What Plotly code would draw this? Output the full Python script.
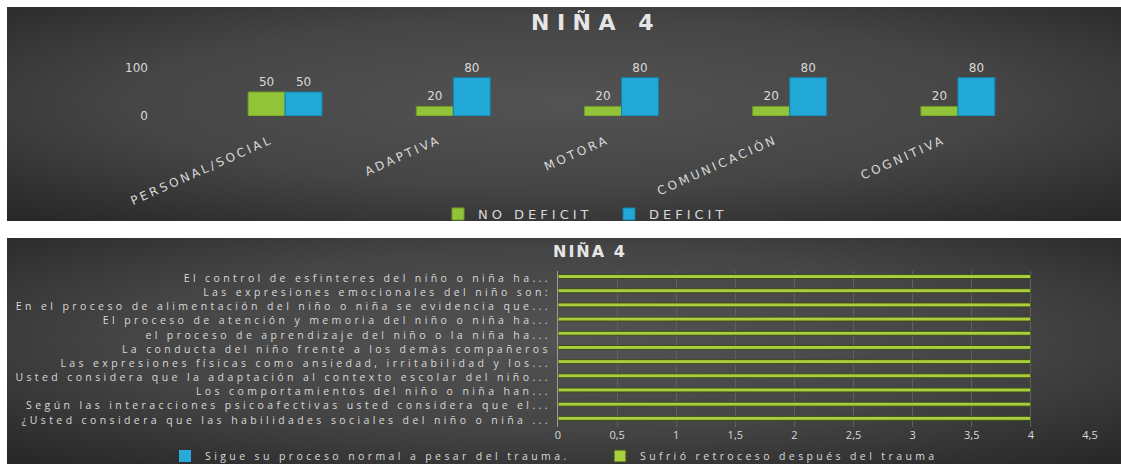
import base64
import plotly.graph_objects as go

# ---------------- data ----------------
areas = ["PERSONAL/SOCIAL", "ADAPTIVA", "MOTORA", "COMUNICACIÓN", "COGNITIVA"]
no_deficit = [50, 20, 20, 20, 20]
deficit = [50, 80, 80, 80, 80]

questions = [
    "¿Usted considera que las habilidades sociales del niño o niña ...",
    "Según las interacciones psicoafectivas usted considera que el...",
    "Los comportamientos del niño o niña han...",
    "Usted considera que la adaptación al contexto escolar del niño...",
    "Las expresiones físicas como ansiedad, irritabilidad y los...",
    "La conducta del niño frente a los demás compañeros",
    "el proceso de aprendizaje del niño o la niña ha...",
    "El proceso de atención y memoria del niño o niña ha...",
    "En el proceso de alimentación del niño o niña se evidencia que...",
    "Las expresiones emocionales del niño son:",
    "El control de esfinteres del niño o niña ha...",
]
sigue_normal = [0, 0, 0, 0, 0, 0, 0, 0, 0, 0, 0]
sufrio_retroceso = [4, 4, 4, 4, 4, 4, 4, 4, 4, 4, 4]

title_text = "NIÑA 4"
legend_top = ["NO DEFICIT", "DEFICIT"]
legend_bottom = ["Sigue su proceso normal a pesar del trauma.", "Sufrió retroceso después del trauma"]

# ---------------- helpers ----------------
W, H = 1121, 464
GREEN = "#92c43a"
BLUE = "#22a8d6"
TXT = "#d9d9d9"
Q_LS = 3.4  # letter spacing of the bottom chart texts


def sp(s, ls):
    return f'<span style="letter-spacing:{ls}px">{s}</span>'


def px_x(x):
    return x / W


def px_y(y):
    return 1 - y / H


svg = ("<svg xmlns='http://www.w3.org/2000/svg' width='200' height='100' viewBox='0 0 200 100' "
       "preserveAspectRatio='none'><defs><radialGradient id='g' cx='0.5' cy='0.45' r='0.72'>"
       "<stop offset='0' stop-color='#535353'/><stop offset='0.55' stop-color='#454545'/>"
       "<stop offset='1' stop-color='#282828'/></radialGradient></defs>"
       "<rect width='200' height='100' fill='url(#g)'/></svg>")
bg_src = "data:image/svg+xml;base64," + base64.b64encode(svg.encode()).decode()

# category labels padded with non-breaking spaces so the rotated text sits left of the bars
area_labels = [sp(a, 2.8) + "&nbsp;&nbsp;&nbsp;&nbsp;" for a in areas]

fig = go.Figure()

# ---------------- top chart ----------------
fig.add_trace(go.Bar(
    x=area_labels, y=no_deficit, name=sp(legend_top[0], 4),
    marker=dict(color=GREEN, line=dict(color="#6f9a25", width=1)),
    text=no_deficit, textposition="outside", cliponaxis=False,
    textfont=dict(family="DejaVu Sans", size=12, color=TXT),
    xaxis="x", yaxis="y", legend="legend", showlegend=True,
))
fig.add_trace(go.Bar(
    x=area_labels, y=deficit, name=sp(legend_top[1], 4),
    marker=dict(color=BLUE, line=dict(color="#157fa6", width=1)),
    text=deficit, textposition="outside", cliponaxis=False,
    textfont=dict(family="DejaVu Sans", size=12, color=TXT),
    xaxis="x", yaxis="y", legend="legend2", showlegend=True,
))

# ---------------- bottom chart ----------------
fig.add_trace(go.Bar(
    y=[sp(q, Q_LS) for q in questions], x=sigue_normal, orientation="h",
    name=sp(legend_bottom[0], Q_LS), marker=dict(color="#2aa9da", line=dict(width=0)),
    width=0.28,
    xaxis="x2", yaxis="y2", legend="legend3", showlegend=True,
))
fig.add_trace(go.Bar(
    y=[sp(q, Q_LS) for q in questions], x=sufrio_retroceso, orientation="h",
    name=sp(legend_bottom[1], Q_LS), marker=dict(color="#a9cf3e", line=dict(color="#3f4a1c", width=1)),
    width=0.28,
    xaxis="x2", yaxis="y2", legend="legend4", showlegend=True,
))

leg_common = dict(orientation="h", yanchor="middle", xanchor="left", bgcolor="rgba(0,0,0,0)",
                  itemwidth=30, visible=True)
top_leg_font = dict(family="DejaVu Sans", size=13, color=TXT)
bot_leg_font = dict(family="Open Sans", size=10.5, color=TXT)

fig.update_layout(
    width=W, height=H,
    margin=dict(l=0, r=0, t=0, b=0, autoexpand=False),
    paper_bgcolor="white",
    plot_bgcolor="rgba(0,0,0,0)",
    showlegend=True,
    separators=",.",
    barmode="group",
    bargap=0.56,
    bargroupgap=0,
    font=dict(family="Open Sans", color=TXT),
    images=[
        dict(source=bg_src, xref="paper", yref="paper", x=px_x(7), y=px_y(7),
             sizex=(W - 7) / W, sizey=(221 - 7) / H, sizing="stretch", layer="below",
             xanchor="left", yanchor="top"),
        dict(source=bg_src, xref="paper", yref="paper", x=px_x(7), y=px_y(238),
             sizex=(W - 7) / W, sizey=(H - 238) / H, sizing="stretch", layer="below",
             xanchor="left", yanchor="top"),
    ],
    xaxis=dict(domain=[px_x(201), px_x(1042)], anchor="y", showgrid=False, showline=False,
               zeroline=False, tickangle=-24, ticks="", automargin=False,
               ticklabelstandoff=8,
               tickfont=dict(family="DejaVu Sans", size=12, color=TXT)),
    yaxis=dict(domain=[px_y(116), px_y(68)], anchor="x", range=[0, 100], tickvals=[0, 100],
               showgrid=True, gridcolor="#7a7a7a", gridwidth=1, zeroline=False, showline=False,
               ticklabelstandoff=52, automargin=False,
               tickfont=dict(family="DejaVu Sans", size=12, color=TXT)),
    xaxis2=dict(domain=[px_x(558), px_x(1090)], anchor="y2", range=[0, 4.5], dtick=0.5,
                showgrid=True, gridcolor="#606060", gridwidth=1, zeroline=False, showline=False,
                ticks="", automargin=False,
                tickfont=dict(family="Open Sans", size=11, color=TXT)),
    yaxis2=dict(domain=[px_y(427), px_y(271)], anchor="x2", showgrid=False, zeroline=False,
                showline=True, linecolor="#9a9a9a", linewidth=1, ticks="", automargin=False,
                ticklabelstandoff=4,
                tickfont=dict(family="Open Sans", size=10.5, color=TXT)),
    legend=dict(leg_common, x=px_x(438), y=px_y(214), font=top_leg_font),
    legend2=dict(leg_common, x=px_x(609), y=px_y(214), font=top_leg_font),
    legend3=dict(leg_common, x=px_x(165), y=px_y(456), font=bot_leg_font),
    legend4=dict(leg_common, x=px_x(600), y=px_y(456), font=bot_leg_font),
    annotations=[
        dict(text=sp(title_text, 7.5), x=px_x(596), y=px_y(22), xref="paper", yref="paper",
             showarrow=False, xanchor="center", yanchor="middle",
             font=dict(family="DejaVu Sans", size=22, color="#e6e6e6", weight="bold")),
        dict(text=sp(title_text, 2), x=px_x(590), y=px_y(251), xref="paper", yref="paper",
             showarrow=False, xanchor="center", yanchor="middle",
             font=dict(family="DejaVu Sans", size=16, color="#e6e6e6", weight="bold")),
    ],
)

fig.write_html("out.html")
